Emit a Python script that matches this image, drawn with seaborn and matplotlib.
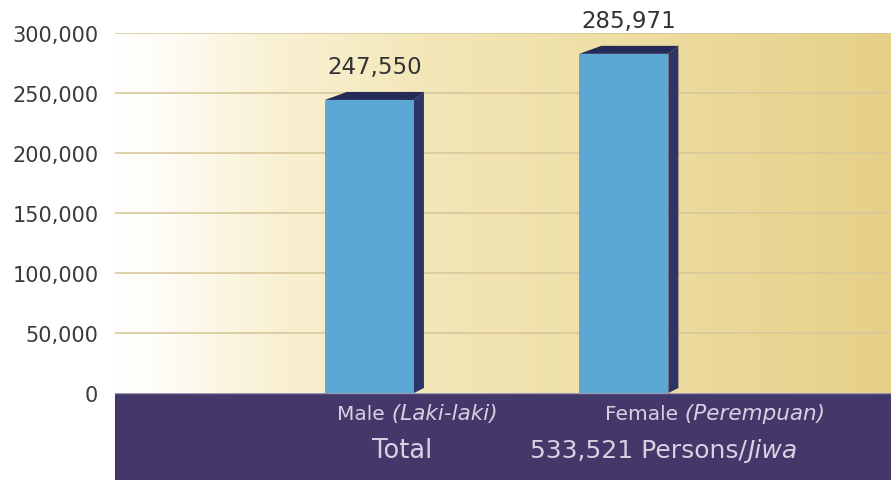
import numpy as np
import matplotlib
matplotlib.use("Agg")
import matplotlib.pyplot as plt
import seaborn as sns
import pandas as pd
from matplotlib.colors import LinearSegmentedColormap
from matplotlib.patches import Polygon, Rectangle
from matplotlib.text import Annotation

# ---- data ----
categories = ["Male", "Female"]
values = [247550, 285971]
value_labels = ["247,550", "285,971"]
yticks = [0, 50000, 100000, 150000, 200000, 250000, 300000]
ytick_labels = ["0", "50,000", "100,000", "150,000", "200,000", "250,000", "300,000"]
cat_main = ["Male", "Female"]
cat_local = [" (Laki-laki)", " (Perempuan)"]
total_label = "Total"
total_value_main = "533,521 Persons/"
total_value_local = "Jiwa"

sns.set_theme(style="white")
plt.rcParams['font.family'] = ['DejaVu Sans']

W, H = 891, 481
fig = plt.figure(figsize=(W / 100, H / 100), dpi=100)
fig.patch.set_facecolor("white")

def fx(px):
    return px / W

def fy(py):
    return 1 - py / H

ax_left, ax_right, ax_top, ax_bot = 115, 891, 34, 394
ax = fig.add_axes([fx(ax_left), fy(ax_bot), (ax_right - ax_left) / W, (ax_bot - ax_top) / H])
ax.set_facecolor("none")

df = pd.DataFrame({"cat": categories, "val": values})
sns.barplot(data=df, x="cat", y="val", ax=ax, color="#5ba8d4", width=0.35,
            saturation=1, zorder=3, linewidth=0)

xmin, xmax = -1.0, 2.05
ax.set_xlim(xmin, xmax)
ax.set_ylim(0, 300000)

# background gradient
stops = [(0.0, (255, 255, 255)), (0.07, (254, 252, 244)), (0.2, (249, 241, 212)),
         (0.4, (243, 231, 184)), (0.6, (239, 224, 168)), (1.0, (230, 208, 136))]
cmap = LinearSegmentedColormap.from_list(
    "bg", [(p, tuple(c / 255 for c in col)) for p, col in stops])
grad = np.linspace(0, 1, 512)[None, :]
ax.imshow(grad, cmap=cmap, aspect="auto", extent=[xmin, xmax, 0, 300000],
          zorder=0, interpolation="bilinear")
ax.set_xlim(xmin, xmax)
ax.set_ylim(0, 300000)

for t in yticks[1:]:
    ax.axhline(t, color="#d8c89b", lw=1.2, zorder=1)

# 3D side/top
xpx = (ax_right - ax_left) / (xmax - xmin)
ypx = (ax_bot - ax_top) / 300000
dx = 10 / xpx
dy = 8 / ypx
for patch in list(ax.patches):
    if not isinstance(patch, matplotlib.patches.Rectangle) or patch.get_height() <= 0:
        continue
    x0 = patch.get_x()
    w = patch.get_width()
    h = patch.get_height()
    top_front = h - dy / 2
    patch.set_height(top_front)
    side = Polygon([(x0 + w, 0), (x0 + w, top_front), (x0 + w + dx, top_front + dy),
                    (x0 + w + dx, 5 / ypx)], closed=True, facecolor="#2c3566",
                   edgecolor="none", zorder=3)
    ax.add_patch(side)
    top = Polygon([(x0, top_front), (x0 + 2.2 * dx, top_front + dy),
                   (x0 + w + dx, top_front + dy), (x0 + w, top_front)], closed=True,
                  facecolor="#262a58", edgecolor="none", zorder=3)
    ax.add_patch(top)

for i, (v, lab) in enumerate(zip(values, value_labels)):
    ax.text(i + dx / 2, v + 29 / ypx, lab, ha="center", va="center",
            fontsize=16.5, color="#333333", zorder=5, clip_on=False)

ax.set_yticks(yticks, ytick_labels)
ax.set_xticks([])
ax.set_xlabel("")
ax.set_ylabel("")
ax.tick_params(axis="y", length=0, pad=12, labelsize=15, labelcolor="#3a3a3a")
for s in ax.spines.values():
    s.set_visible(False)

# bottom band
band = Rectangle((fx(ax_left), 0), 1 - fx(ax_left), fy(ax_bot), transform=fig.transFigure,
                 facecolor="#433869", edgecolor="none", zorder=-2)
fig.patches.append(band)
fig.add_artist(matplotlib.lines.Line2D([fx(ax_left), 1], [fy(ax_bot), fy(ax_bot)],
                                       transform=fig.transFigure, color="#9d95b5", lw=1,
                                       zorder=-1))

txt_col = "#d6d2e2"

def chained(t_prev, s, size):
    a = Annotation(s, xy=(1, 0), xycoords=t_prev, ha="left", va="bottom",
                   fontsize=size, color=txt_col, style="italic", annotation_clip=False)
    fig.add_artist(a)
    a.set_zorder(5)
    return a

starts = [337, 605]
for sx, main, loc in zip(starts, cat_main, cat_local):
    t1 = fig.text(fx(sx), fy(415), main, ha="left", va="center", fontsize=14.5, color=txt_col)
    chained(t1, loc, 15.5)

fig.text(fx(402), fy(451), total_label, ha="center", va="center", fontsize=18.5, color=txt_col)
t2 = fig.text(fx(530), fy(451), total_value_main, ha="left", va="center",
              fontsize=18, color=txt_col)
chained(t2, total_value_local, 18)

fig.savefig("out.png", dpi=100)
